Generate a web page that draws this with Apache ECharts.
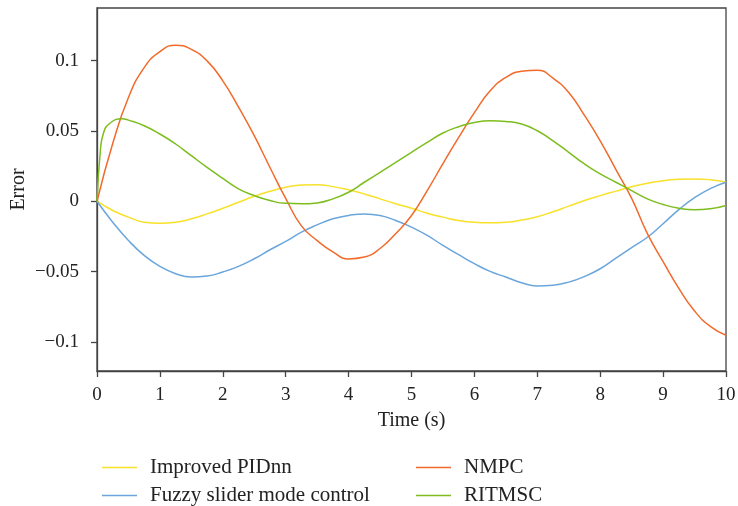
<!DOCTYPE html>
<html>
<head>
<meta charset="utf-8">
<script src="https://cdn.jsdelivr.net/npm/echarts@6/dist/echarts.min.js"></script>
<style>html,body{margin:0;padding:0;background:#fff}#c{width:738px;height:506px}</style>
</head>
<body>
<div id="c"></div>
<script>
var times = [0,0.25,0.5,0.75,1,1.25,1.5,1.75,2,2.25,2.5,2.75,3,3.25,3.5,3.75,4,4.25,4.5,4.75,5,5.25,5.5,5.75,6,6.25,6.5,6.75,7,7.25,7.5,7.75,8,8.25,8.5,8.75,9,9.25,9.5,9.75,10];
var pidnn = [0,-0.0066,-0.0113,-0.0149,-0.0156,-0.0149,-0.0125,-0.009,-0.005,-0.0007,0.0035,0.0071,0.0099,0.0116,0.0118,0.0104,0.0081,0.0052,0.0017,-0.0018,-0.005,-0.0085,-0.0113,-0.0137,-0.0149,-0.0153,-0.0149,-0.0134,-0.011,-0.0075,-0.0035,0.0005,0.004,0.0072,0.0103,0.0128,0.0146,0.0156,0.0159,0.0153,0.0136];
var fuzzy = [0,-0.0149,-0.0279,-0.0385,-0.0463,-0.0515,-0.0539,-0.0532,-0.0503,-0.0463,-0.0409,-0.0345,-0.0286,-0.022,-0.0168,-0.0125,-0.0101,-0.009,-0.0101,-0.0137,-0.0184,-0.0243,-0.0314,-0.038,-0.0444,-0.0499,-0.0539,-0.0579,-0.0602,-0.0597,-0.0575,-0.0535,-0.048,-0.0405,-0.033,-0.0256,-0.016,-0.006,0.0025,0.009,0.0135];
var nmpc = [0,0.041,0.0738,0.095,0.1064,0.111,0.108,0.0998,0.0856,0.067,0.0466,0.024,0.002,-0.0175,-0.028,-0.036,-0.041,-0.0397,-0.0336,-0.023,-0.0101,0.0076,0.0267,0.0454,0.063,0.0785,0.088,0.0925,0.0932,0.0875,0.0773,0.061,0.043,0.0225,0.002,-0.023,-0.043,-0.062,-0.078,-0.089,-0.0953];
var ritmscTimes = [0,0.05,0.1,0.2,0.4,0.5,0.75,1,1.25,1.5,1.75,2,2.25,2.5,2.75,3,3.25,3.5,3.75,4,4.25,4.5,4.75,5,5.25,5.5,5.75,6,6.25,6.5,6.75,7,7.25,7.5,7.75,8,8.25,8.5,8.75,9,9.25,9.5,9.75,10];
var ritmsc = [0,0.034,0.048,0.0553,0.0587,0.0577,0.0537,0.0478,0.0407,0.0324,0.0241,0.0163,0.0088,0.004,0.0005,-0.0015,-0.0018,-0.0012,0.0017,0.0064,0.0135,0.0206,0.0277,0.0348,0.0418,0.0485,0.053,0.056,0.0572,0.0567,0.0549,0.0501,0.043,0.0348,0.0265,0.0194,0.0135,0.0076,0.0017,-0.0023,-0.005,-0.0061,-0.0054,-0.003];
var yTicks = [-0.1,-0.05,0,0.05,0.1];
var names = ['Improved PIDnn','Fuzzy slider mode control','NMPC','RITMSC'];
var colors = ['#f7e12a','#6aa6dc','#f26a2b','#7dbd1d'];

function pairs(xs, ys){ return xs.map(function(x,i){ return [x, ys[i]]; }); }
var font = 'Liberation Serif';
var chart = echarts.init(document.getElementById('c'), null, {renderer:'canvas'});
var mk = function(name, xs, ys, color){
  return {name:name, type:'line', data:pairs(xs, ys), smooth:0.5, symbol:'none',
    lineStyle:{color:color, width:1.5}, itemStyle:{color:color}, animation:false};
};
var legendPos = [[97,452],[97,480],[411,452],[411,480]];
var legends = names.map(function(n,i){
  return {data:[n], left:legendPos[i][0], top:legendPos[i][1], itemWidth:35, itemHeight:12,
    textStyle:{fontFamily:font, fontSize:21, color:'#222', padding:[0,0,0,8]},
    icon:'path://M0,5.2H35V6.8H0Z'};
});
chart.setOption({
  animation:false,
  backgroundColor:'#fff',
  grid:{left:97, right:12, top:8, bottom:135, outerBoundsMode:'none', containLabel:false, show:true, borderColor:'#444', borderWidth:1.3, backgroundColor:'transparent'},
  xAxis:{type:'value', min:0, max:10, interval:1,
    name:'Time (s)', nameLocation:'middle', nameGap:40, nameMoveOverlap:false,
    nameTextStyle:{fontFamily:font, fontSize:20, color:'#222'},
    axisLine:{onZero:false, lineStyle:{color:'#444', width:1.3}},
    axisTick:{show:true, length:6, inside:false, lineStyle:{color:'#444', width:1.3}},
    axisLabel:{fontFamily:font, fontSize:19, color:'#222', margin:15},
    splitLine:{show:false}},
  yAxis:{type:'value', min:-0.1207, max:0.1374,
    name:'Error', nameLocation:'middle', nameGap:68, nameRotate:90, nameMoveOverlap:false,
    nameTextStyle:{fontFamily:font, fontSize:20, color:'#222'},
    axisLine:{show:true, onZero:false, lineStyle:{color:'#444', width:1.3}},
    axisTick:{show:true, length:6, customValues:yTicks, lineStyle:{color:'#444', width:1.3}},
    axisLabel:{fontFamily:font, fontSize:19, color:'#222', margin:18, customValues:yTicks,
      formatter:function(v){ return String(v).replace('-', '\u2212'); }},
    splitLine:{show:false}},
  legend:legends,
  series:[
    mk(names[0], times, pidnn, colors[0]),
    mk(names[1], times, fuzzy, colors[1]),
    mk(names[2], times, nmpc, colors[2]),
    mk(names[3], ritmscTimes, ritmsc, colors[3])
  ]
});
</script>
</body>
</html>
